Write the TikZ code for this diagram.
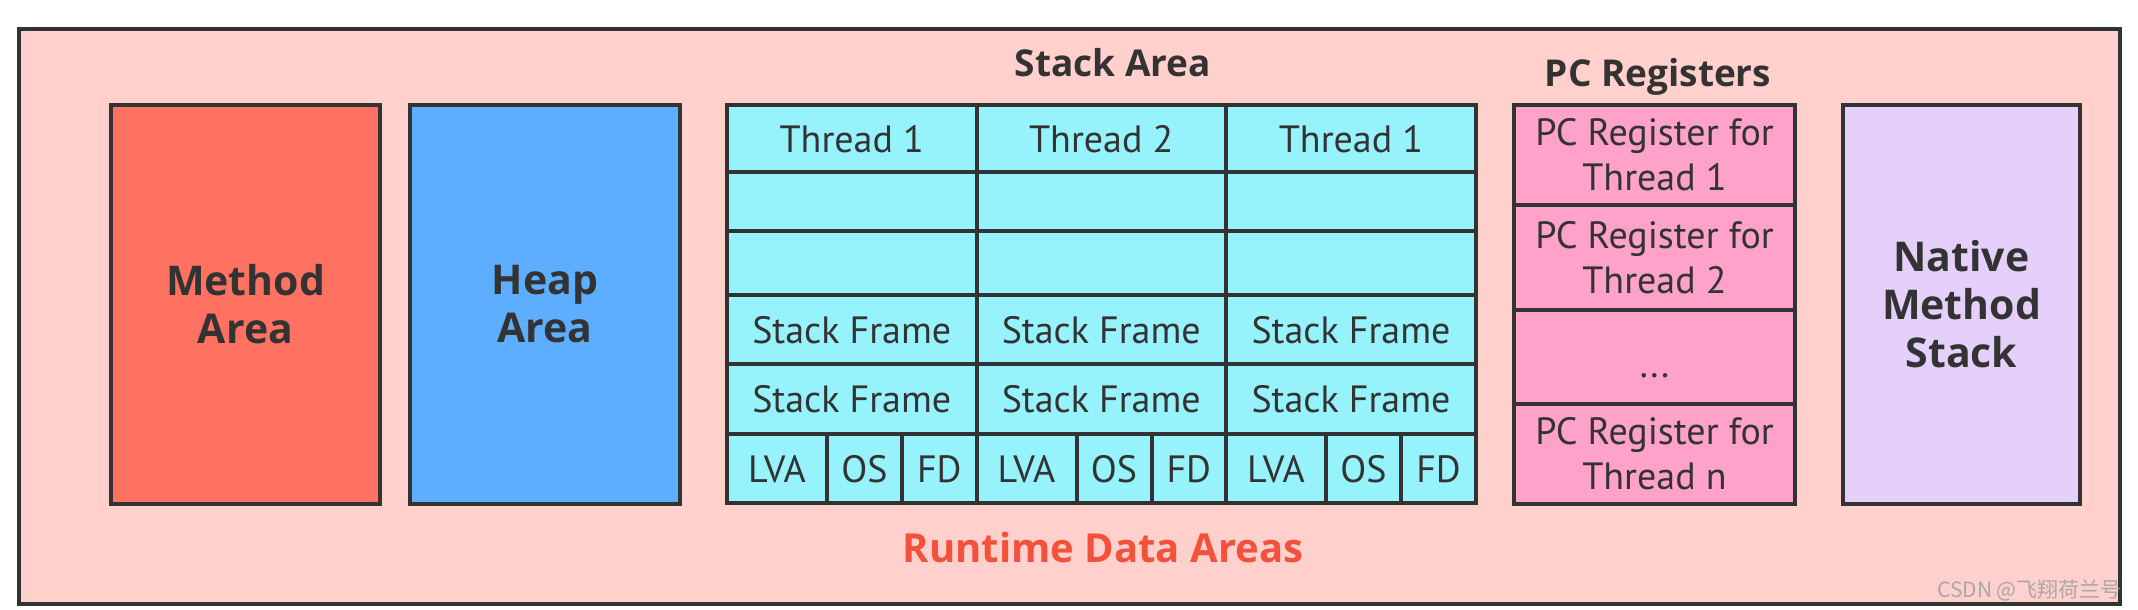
\documentclass[tikz,border=0pt]{standalone}
\usepackage{fontspec}
\setmainfont{PT Sans}
\newfontfamily\osans{Open Sans}
\newfontfamily\cjk{Noto Sans CJK SC}
\definecolor{bgpink}{HTML}{FFD0CC}
\definecolor{methodc}{HTML}{FF7262}
\definecolor{heapc}{HTML}{5EAEFF}
\definecolor{cyanc}{HTML}{96F3FC}
\definecolor{pcc}{HTML}{FFA2C9}
\definecolor{nativec}{HTML}{E5D0FC}
\definecolor{redtext}{HTML}{F4513D}
\definecolor{ink}{HTML}{333333}
\definecolor{wmark}{HTML}{A8A8A8}
\newcommand\rbox[7]{\node[#6,minimum width={(#4-(#2))*1pt},minimum height={(#5-(#3))*1pt}] (#1) at ({((#2)+(#4))/2},{((#3)+(#5))/2}) {#7};}
\begin{document}
\begin{tikzpicture}[x=1pt,y=-1pt,
  area/.style={draw=ink,line width=4pt,inner sep=0pt,rectangle},
  bigtext/.style={font=\osans\bfseries\fontsize{41}{48}\selectfont,text=ink,align=center},
  celltext/.style={font=\fontsize{38}{45}\selectfont,text=ink,align=center},
  cellc/.style={area,fill=cyanc,celltext,text height=27pt,text depth=0pt},
  pccell/.style={area,fill=pcc,celltext},
  title/.style={font=\osans\bfseries\fontsize{37}{44}\selectfont,text=ink,inner sep=0pt,anchor=base}]
\useasboundingbox[fill=white] (0,0) rectangle (2138,610);
% outer frame
\rbox{frame}{19}{29}{2120}{604}{area,fill=bgpink}{}
% method & heap
\rbox{method}{111}{105}{380}{504}{area,fill=methodc,bigtext}{Method\\Area}
\rbox{heap}{410}{105}{680}{504}{area,fill=heapc,bigtext}{Heap\\Area}
% stack area
\node[title] (stacktitle) at (1113,76) {Stack Area};
\foreach \i/\a/\b/\t in {1/727/976.5/Thread 1,2/976.5/1226/Thread 2,3/1226/1476/Thread 1}{
  \rbox{th\i}{\a}{105}{\b}{172}{cellc}{\t}
  \rbox{ea\i}{\a}{172}{\b}{231}{cellc}{}
  \rbox{eb\i}{\a}{231}{\b}{295}{cellc}{}
  \rbox{sfa\i}{\a}{295}{\b}{364}{cellc}{Stack Frame}
  \rbox{sfb\i}{\a}{364}{\b}{434}{cellc}{Stack Frame}
  \rbox{lva\i}{\a}{434}{\a+100}{503}{cellc}{LVA}
  \rbox{os\i}{\a+100}{434}{\a+175}{503}{cellc}{OS}
  \rbox{fd\i}{\a+175}{434}{\b}{503}{cellc}{FD}
}
% pc registers
\node[title] (pctitle) at (1658,86) {PC Registers};
\rbox{pca}{1514}{105}{1795}{205}{pccell}{PC Register for\\Thread 1}
\rbox{pcb}{1514}{205}{1795}{310}{pccell}{PC Register for\\Thread 2}
\rbox{pcc}{1514}{310}{1795}{404}{pccell,text height=40pt,text depth=0pt}{...}
\rbox{pcn}{1514}{404}{1795}{504}{pccell}{PC Register for\\Thread n}
% native
\rbox{native}{1843}{105}{2080}{504}{area,fill=nativec,bigtext}{Native\\Method\\Stack}
% caption
\node[title,text=redtext,font=\osans\bfseries\fontsize{40}{46}\selectfont] (caption) at (1103,562) {Runtime Data Areas};
% watermark
\node[anchor=base east,inner sep=0pt,text=wmark,font=\cjk\fontsize{21}{24}\selectfont] (wm) at (2122,597) {CSDN @飞翔荷兰号};
\end{tikzpicture}
\end{document}
